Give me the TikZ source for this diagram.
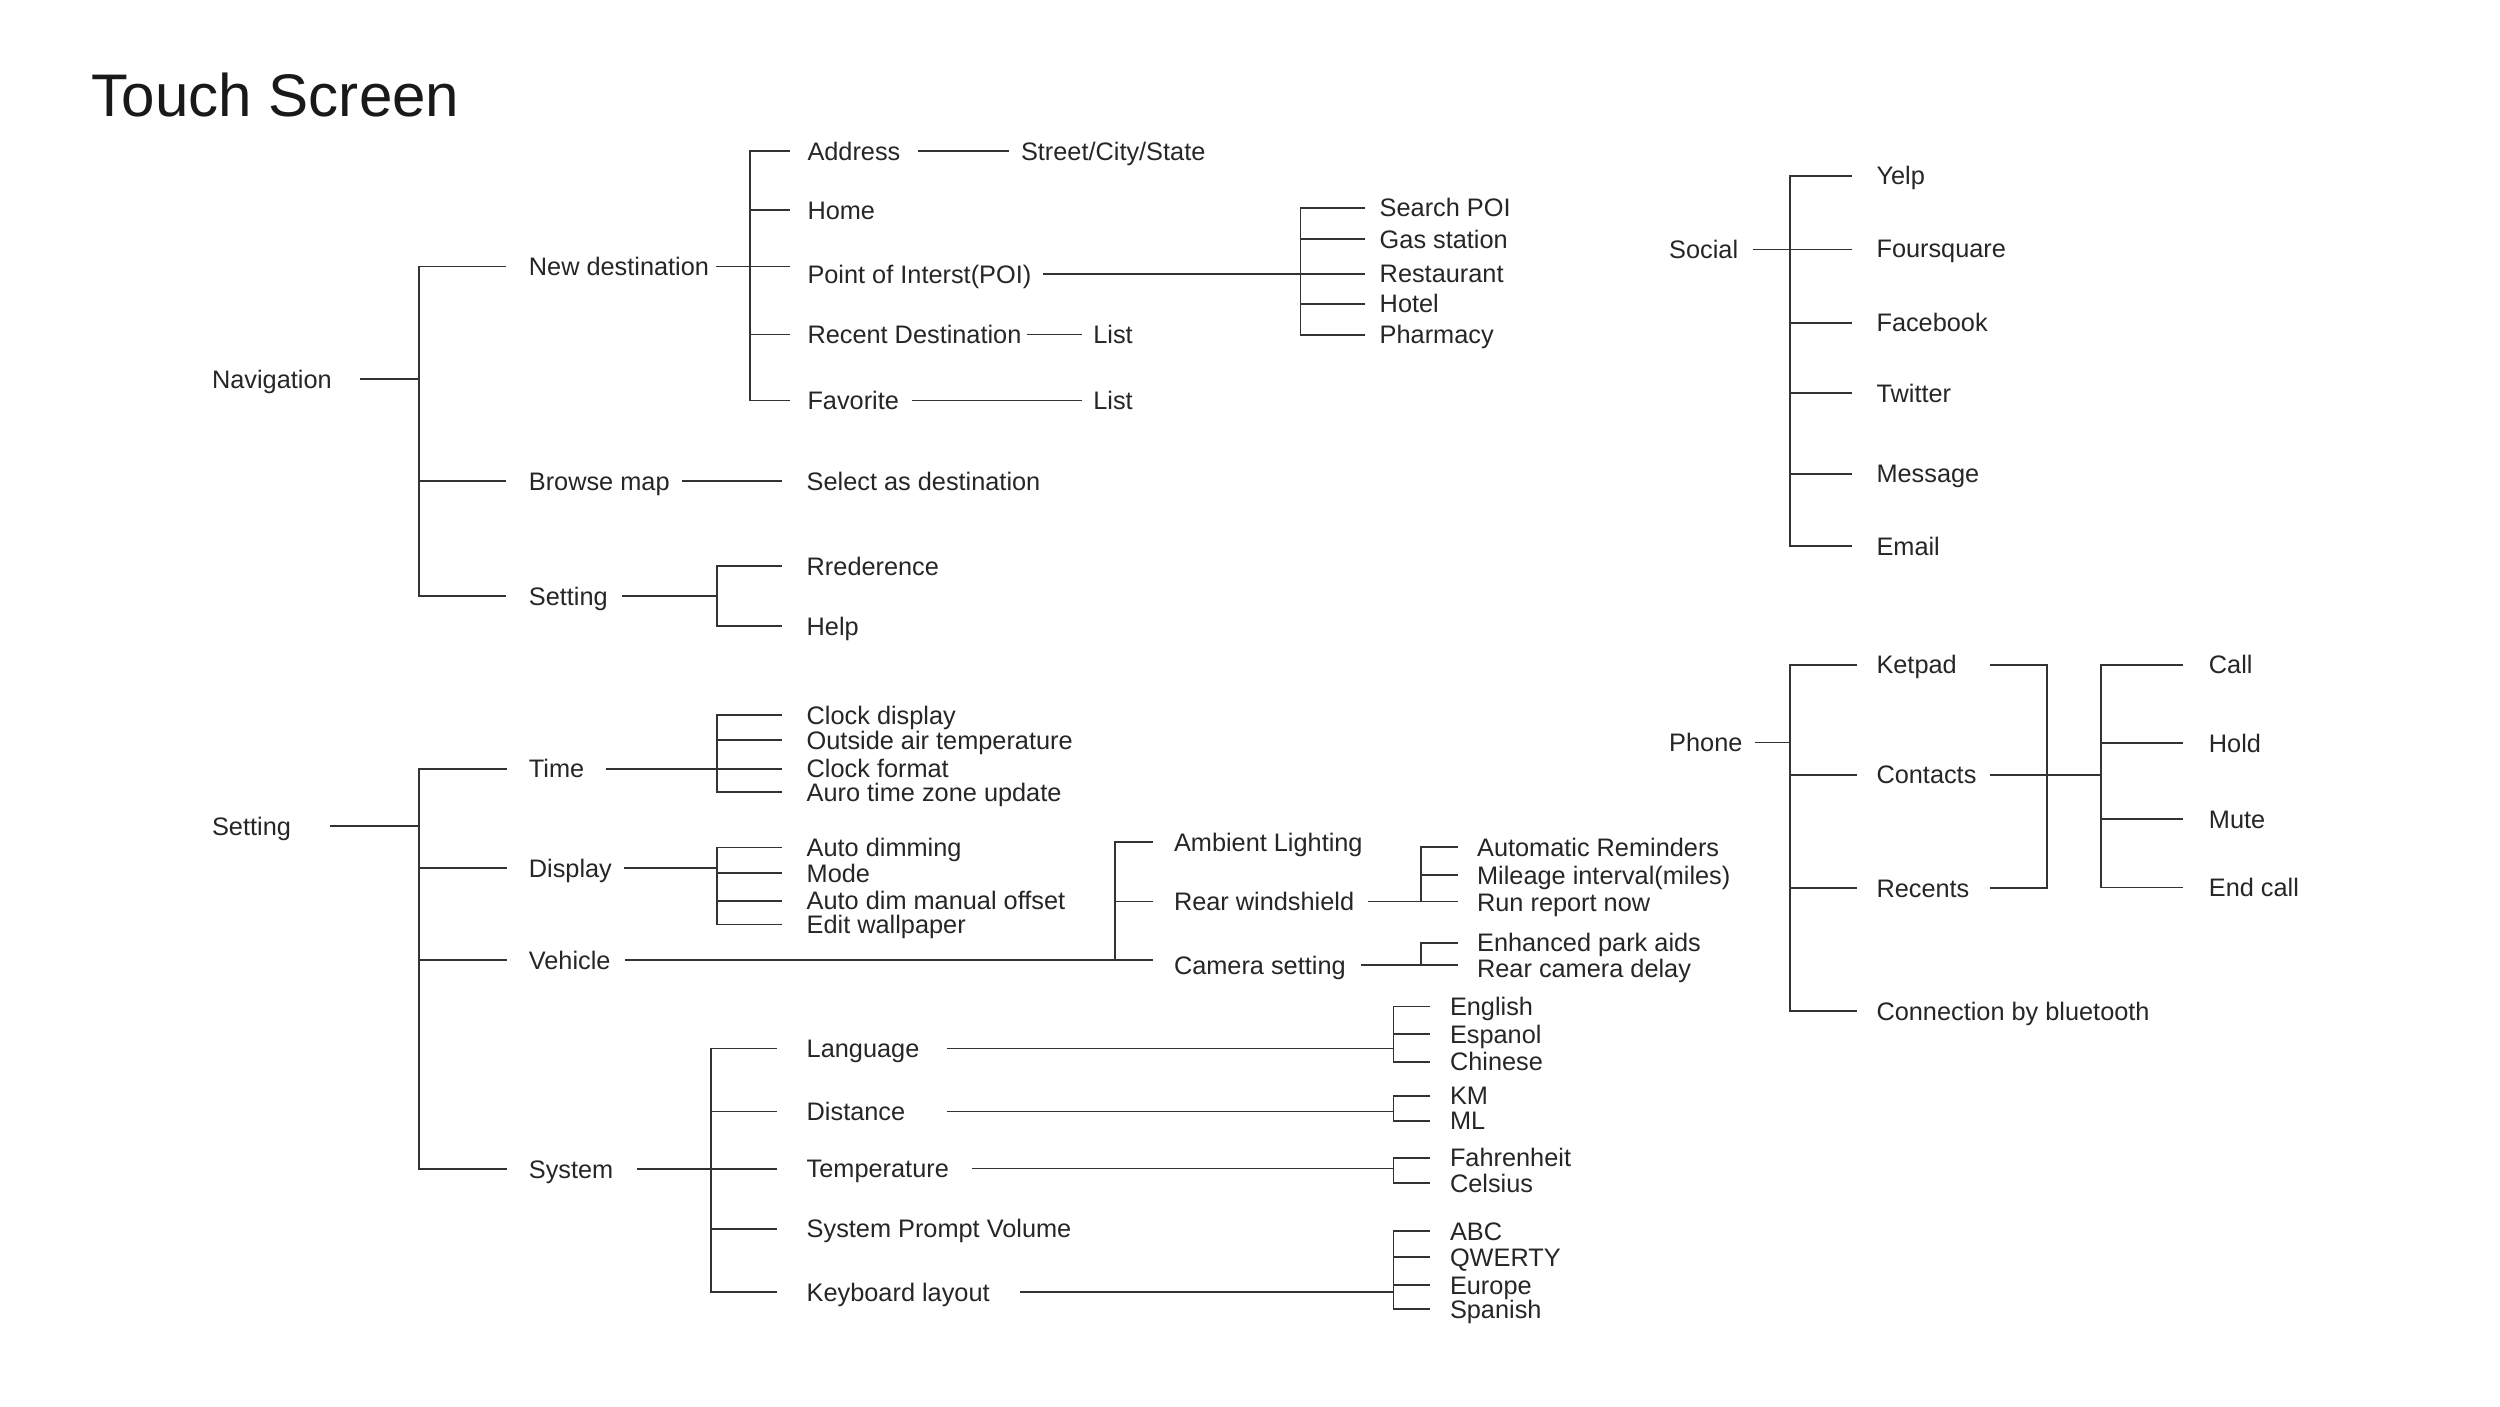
\documentclass[tikz,border=0pt]{standalone}
\usepackage{fontspec}
\setmainfont{Liberation Sans}

\tikzset{
  item/.style={anchor=west, inner sep=0pt, text height=5.2pt, text depth=0pt,
    text=black!85, font=\fontsize{7.2}{8}\selectfont},
  head/.style={anchor=west, inner sep=0pt, text height=12.2pt, text depth=0pt,
    text=black!90, font=\fontsize{17.1}{20}\selectfont},
  tline/.style={draw=black!80, line width=0.55pt},
}

\begin{document}
\begin{tikzpicture}[x=0.01cm, y=-0.01cm]
	\useasboundingbox[fill=white] (0,0) rectangle (2500,1406);
	% title
	\node[head] (title) at (91,95) {Touch Screen};

	% x positions of the vertical bars
	\coordinate (navbar) at (418.7,0);
	\coordinate (ndbar) at (749.6,0);
	\coordinate (poibar) at (1300.5,0);
	\coordinate (nsetbar) at (717,0);
	\coordinate (sbar) at (418.7,0);
	\coordinate (timebar) at (717.2,0);
	\coordinate (vehbar) at (1115.3,0);
	\coordinate (rwbar) at (1420.6,0);
	\coordinate (sysbar) at (711.4,0);
	\coordinate (optbar) at (1393.5,0);
	\coordinate (socbar) at (1789.7,0);
	\coordinate (kpin) at (1989.8,0);
	\coordinate (kpbar) at (2047.2,0);
	\coordinate (callbar) at (2101.4,0);

	% ---- Navigation ----
	\node[item] (nav) at (211.4,379.4) {Navigation};
	\node[item] (newdest) at (528.2,266.5) {New destination};
	\node[item] (browse) at (528.2,481) {Browse map};
	\node[item] (navset) at (528.2,596) {Setting};
	\node[item] (addr) at (806.8,151) {Address};
	\node[item] (street) at (1020.3,151) {Street/City/State};
	\node[item] (home) at (806.8,210) {Home};
	\node[item] (poi) at (806.8,274) {Point of Interst(POI)};
	\node[item] (recent) at (806.8,334.5) {Recent Destination};
	\node[item] (rlist) at (1092.6,334.5) {List};
	\node[item] (fav) at (806.8,400.5) {Favorite};
	\node[item] (flist) at (1092.6,400.5) {List};
	\node[item] (spoi) at (1379,207.8) {Search POI};
	\node[item] (gas) at (1379,239) {Gas station};
	\node[item] (rest) at (1379,273) {Restaurant};
	\node[item] (hotel) at (1379,303.7) {Hotel};
	\node[item] (pharm) at (1379,334.7) {Pharmacy};
	\node[item] (select) at (806,481) {Select as destination};
	\node[item] (pref) at (806,566) {Rrederence};
	\node[item] (help) at (806,626) {Help};

	\draw[tline] ([xshift=.28cm]nav.east) -- (nav.east -| navbar);
	\draw[tline] ([xshift=-.22cm]newdest.west) -| (navbar |- navset.west) -- ([xshift=-.22cm]navset.west);
	\draw[tline] (navbar |- browse.west) -- ([xshift=-.22cm]browse.west);
	% new destination
	\draw[tline, shorten >=.17cm] ([xshift=.06cm]newdest.east) -- (newdest.east -| poi.west);
	\draw[tline] ([xshift=-.17cm]addr.west) -| (ndbar |- fav.west) -- ([xshift=-.17cm]fav.west);
	\draw[tline] (ndbar |- home.west) -- ([xshift=-.17cm]home.west);
	\draw[tline] (ndbar |- recent.west) -- ([xshift=-.17cm]recent.west);
	\draw[tline] ([xshift=.17cm]addr.east) -- ([xshift=-.115cm]street.west);
	\draw[tline] ([xshift=.045cm]recent.east) -- ([xshift=-.103cm]rlist.west);
	\draw[tline] ([xshift=.126cm]fav.east) -- ([xshift=-.103cm]flist.west);
	% point of interest
	\draw[tline, shorten >=.14cm] ([xshift=.115cm]poi.east) -- (poi.east -| rest.west);
	\draw[tline] ([xshift=-.14cm]spoi.west) -| (poibar |- pharm.west) -- ([xshift=-.14cm]pharm.west);
	\draw[tline] (poibar |- gas.west) -- ([xshift=-.14cm]gas.west);
	\draw[tline] (poibar |- hotel.west) -- ([xshift=-.14cm]hotel.west);
	% browse map, setting
	\draw[tline] ([xshift=.116cm]browse.east) -- ([xshift=-.24cm]select.west);
	\draw[tline] ([xshift=.14cm]navset.east) -- (navset.east -| nsetbar);
	\draw[tline] ([xshift=-.24cm]pref.west) -| (nsetbar |- help.west) -- ([xshift=-.24cm]help.west);

	% ---- Setting ----
	\node[item] (setting) at (211.4,826) {Setting};
	\node[item] (time) at (528.2,768.7) {Time};
	\node[item] (display) at (528.2,868) {Display};
	\node[item] (vehicle) at (528.2,960) {Vehicle};
	\node[item] (system) at (528.2,1169.4) {System};
	\node[item] (clockdisp) at (806,715) {Clock display};
	\node[item] (outside) at (806,740.4) {Outside air temperature};
	\node[item] (clockfmt) at (806,768.7) {Clock format};
	\node[item] (auro) at (806,792.4) {Auro time zone update};
	\node[item] (autodim) at (806,847.5) {Auto dimming};
	\node[item] (mode) at (806,873) {Mode};
	\node[item] (dimoff) at (806,900.6) {Auto dim manual offset};
	\node[item] (wallp) at (806,924.5) {Edit wallpaper};
	\node[item] (ambient) at (1173.3,842.2) {Ambient Lighting};
	\node[item] (rearws) at (1173.3,901.5) {Rear windshield};
	\node[item] (camera) at (1173.3,965) {Camera setting};
	\node[item] (autorem) at (1476.4,847) {Automatic Reminders};
	\node[item] (mileage) at (1476.4,875) {Mileage interval(miles)};
	\node[item] (runrep) at (1476.4,902.3) {Run report now};
	\node[item] (parkaids) at (1476.4,942.7) {Enhanced park aids};
	\node[item] (reardelay) at (1476.4,968.3) {Rear camera delay};
	\node[item] (lang) at (806,1048.5) {Language};
	\node[item] (dist) at (806,1111.5) {Distance};
	\node[item] (temp) at (806,1168.5) {Temperature};
	\node[item] (spv) at (806,1228.8) {System Prompt Volume};
	\node[item] (kbd) at (806,1292.2) {Keyboard layout};
	\node[item] (english) at (1449.3,1006.5) {English};
	\node[item] (espanol) at (1449.3,1034) {Espanol};
	\node[item] (chinese) at (1449.3,1061.8) {Chinese};
	\node[item] (km) at (1449.3,1095.7) {KM};
	\node[item] (ml) at (1449.3,1120.6) {ML};
	\node[item] (fahr) at (1449.3,1157.7) {Fahrenheit};
	\node[item] (cels) at (1449.3,1183.3) {Celsius};
	\node[item] (abc) at (1449.3,1231.3) {ABC};
	\node[item] (qwerty) at (1449.3,1257.1) {QWERTY};
	\node[item] (europe) at (1449.3,1285.2) {Europe};
	\node[item] (spanish) at (1449.3,1309) {Spanish};

	\draw[tline] ([xshift=.38cm]setting.east) -- (setting.east -| sbar);
	\draw[tline] ([xshift=-.216cm]time.west) -| (sbar |- system.west) -- ([xshift=-.216cm]system.west);
	\draw[tline] (sbar |- display.west) -- ([xshift=-.216cm]display.west);
	\draw[tline] (sbar |- vehicle.west) -- ([xshift=-.216cm]vehicle.west);
	% time
	\draw[tline, shorten >=.24cm] ([xshift=.206cm]time.east) -- (time.east -| clockfmt.west);
	\draw[tline] ([xshift=-.24cm]clockdisp.west) -| (timebar |- auro.west) -- ([xshift=-.24cm]auro.west);
	\draw[tline] (timebar |- outside.west) -- ([xshift=-.24cm]outside.west);
	% display
	\draw[tline] ([xshift=.11cm]display.east) -- (display.east -| timebar);
	\draw[tline] ([xshift=-.24cm]autodim.west) -| (timebar |- wallp.west) -- ([xshift=-.24cm]wallp.west);
	\draw[tline] (timebar |- mode.west) -- ([xshift=-.24cm]mode.west);
	\draw[tline] (timebar |- dimoff.west) -- ([xshift=-.24cm]dimoff.west);
	% vehicle
	\draw[tline, shorten >=.207cm] ([xshift=.14cm]vehicle.east) -- (vehicle.east -| camera.west);
	\draw[tline] ([xshift=-.207cm]ambient.west) -| (vehbar |- vehicle.east);
	\draw[tline] (vehbar |- rearws.west) -- ([xshift=-.207cm]rearws.west);
	\draw[tline, shorten >=.184cm] ([xshift=.136cm]rearws.east) -- (rearws.east -| runrep.west);
	\draw[tline] ([xshift=-.184cm]autorem.west) -| (rwbar |- rearws.east);
	\draw[tline] (rwbar |- mileage.west) -- ([xshift=-.184cm]mileage.west);
	\draw[tline, shorten >=.184cm] ([xshift=.144cm]camera.east) -- (camera.east -| reardelay.west);
	\draw[tline] ([xshift=-.184cm]parkaids.west) -| (rwbar |- camera.east);
	% system
	\draw[tline, shorten >=.29cm] ([xshift=.23cm]system.east) -- (system.east -| temp.west);
	\draw[tline] ([xshift=-.29cm]lang.west) -| (sysbar |- kbd.west) -- ([xshift=-.29cm]kbd.west);
	\draw[tline] (sysbar |- dist.west) -- ([xshift=-.29cm]dist.west);
	\draw[tline] (sysbar |- spv.west) -- ([xshift=-.29cm]spv.west);
	\draw[tline] ([xshift=.266cm]lang.east) -- (lang.east -| optbar);
	\draw[tline] ([xshift=-.19cm]english.west) -| (optbar |- chinese.west) -- ([xshift=-.19cm]chinese.west);
	\draw[tline] (optbar |- espanol.west) -- ([xshift=-.19cm]espanol.west);
	\draw[tline] ([xshift=.415cm]dist.east) -- (dist.east -| optbar);
	\draw[tline] ([xshift=-.19cm]km.west) -| (optbar |- ml.west) -- ([xshift=-.19cm]ml.west);
	\draw[tline] ([xshift=.22cm]temp.east) -- (temp.east -| optbar);
	\draw[tline] ([xshift=-.19cm]fahr.west) -| (optbar |- cels.west) -- ([xshift=-.19cm]cels.west);
	\draw[tline] ([xshift=.30cm]kbd.east) -- (kbd.east -| optbar);
	\draw[tline] ([xshift=-.19cm]abc.west) -| (optbar |- spanish.west) -- ([xshift=-.19cm]spanish.west);
	\draw[tline] (optbar |- qwerty.west) -- ([xshift=-.19cm]qwerty.west);
	\draw[tline] (optbar |- europe.west) -- ([xshift=-.19cm]europe.west);

	% ---- Social ----
	\node[item] (social) at (1668.5,249.5) {Social};
	\node[item] (yelp) at (1875.8,175.6) {Yelp};
	\node[item] (four) at (1875.8,248) {Foursquare};
	\node[item] (fb) at (1875.8,322.6) {Facebook};
	\node[item] (tw) at (1875.8,393) {Twitter};
	\node[item] (msg) at (1875.8,473.7) {Message};
	\node[item] (email) at (1875.8,546) {Email};

	\draw[tline, shorten >=.24cm] ([xshift=.14cm]social.east) -- (social.east -| four.west);
	\draw[tline] ([xshift=-.24cm]yelp.west) -| (socbar |- email.west) -- ([xshift=-.24cm]email.west);
	\draw[tline] (socbar |- fb.west) -- ([xshift=-.24cm]fb.west);
	\draw[tline] (socbar |- tw.west) -- ([xshift=-.24cm]tw.west);
	\draw[tline] (socbar |- msg.west) -- ([xshift=-.24cm]msg.west);

	% ---- Phone ----
	\node[item] (phone) at (1668.5,742.5) {Phone};
	\node[item] (ketpad) at (1875.8,664.6) {Ketpad};
	\node[item] (contacts) at (1875.8,774.6) {Contacts};
	\node[item] (recents) at (1875.8,888) {Recents};
	\node[item] (bt) at (1875.8,1011.3) {Connection by bluetooth};
	\node[item] (call) at (2208.2,664.6) {Call};
	\node[item] (hold) at (2208.2,743) {Hold};
	\node[item] (mute) at (2208.2,819.3) {Mute};
	\node[item] (endcall) at (2208.2,887.5) {End call};

	\draw[tline] ([xshift=.12cm]phone.east) -- (phone.east -| socbar);
	\draw[tline] ([xshift=-.19cm]ketpad.west) -| (socbar |- bt.west) -- ([xshift=-.19cm]bt.west);
	\draw[tline] (socbar |- contacts.west) -- ([xshift=-.19cm]contacts.west);
	\draw[tline] (socbar |- recents.west) -- ([xshift=-.19cm]recents.west);
	\draw[tline] (kpin |- ketpad.east) -| (kpbar |- recents.east) -- (kpin |- recents.east);
	\draw[tline] (kpin |- contacts.east) -- (callbar |- contacts.east);
	\draw[tline] ([xshift=-.255cm]call.west) -| (callbar |- endcall.west) -- ([xshift=-.255cm]endcall.west);
	\draw[tline] (callbar |- hold.west) -- ([xshift=-.255cm]hold.west);
	\draw[tline] (callbar |- mute.west) -- ([xshift=-.255cm]mute.west);
\end{tikzpicture}
\end{document}
